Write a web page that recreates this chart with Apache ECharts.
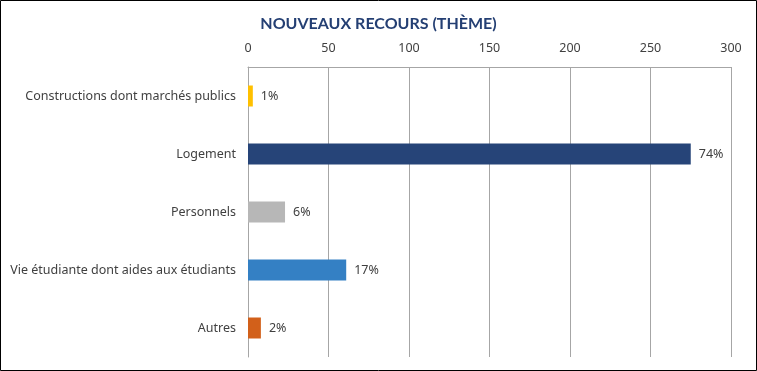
<!DOCTYPE html>
<html><head><meta charset="utf-8">
<script src="https://cdn.jsdelivr.net/npm/echarts@6/dist/echarts.min.js"></script>
<style>html,body{margin:0;padding:0;background:#fff}#c{width:757px;height:371px}</style>
</head><body><div id="c"></div>
<script>
const categories = ["Constructions dont marchés publics", "Logement", "Personnels", "Vie étudiante dont aides aux étudiants", "Autres"];
const values = [3, 275, 23, 61, 8];
const percentLabels = ["1%", "74%", "6%", "17%", "2%"];
const barColors = ["#FFC000", "#264478", "#B7B7B7", "#3480C4", "#D2601A"];
const xTicks = [0, 50, 100, 150, 200, 250, 300];

const chart = echarts.init(document.getElementById('c'), null, {renderer: 'canvas'});
chart.setOption({
  animation: false,
  backgroundColor: '#fff',
  title: {
    text: 'NOUVEAUX RECOURS (THÈME)',
    left: 'center', top: 11,
    textStyle: {fontFamily: 'Lato', fontWeight: 'bold', fontSize: 16, color: '#243F73'}
  },
  graphic: [{type: 'rect', shape: {x: 0.5, y: 0.5, width: 756, height: 370}, style: {fill: 'none', stroke: '#000', lineWidth: 1}, silent: true}],
  grid: {left: 248, right: 26, top: 67, bottom: 14, containLabel: false},
  xAxis: {
    type: 'value', position: 'top', min: xTicks[0], max: xTicks[xTicks.length - 1], interval: 50,
    axisLine: {show: true, lineStyle: {color: '#A6A6A6'}},
    axisTick: {show: false},
    splitLine: {show: true, lineStyle: {color: '#A6A6A6'}},
    axisLabel: {color: '#404040', fontFamily: 'Noto Sans', fontSize: 12.5, margin: 12}
  },
  yAxis: {
    type: 'category', data: categories, inverse: true,
    axisLine: {show: true, lineStyle: {color: '#A6A6A6'}},
    axisTick: {show: false},
    axisLabel: {color: '#404040', fontFamily: 'Noto Sans', fontSize: 12.5, margin: 12}
  },
  series: [{
    type: 'bar',
    data: values.map((v, i) => ({value: v, itemStyle: {color: barColors[i]}})),
    barWidth: 21,
    label: {
      show: true, position: 'right', distance: 8,
      color: '#404040', fontFamily: 'Noto Sans', fontSize: 12.5,
      formatter: p => percentLabels[p.dataIndex]
    }
  }]
});
</script></body></html>
